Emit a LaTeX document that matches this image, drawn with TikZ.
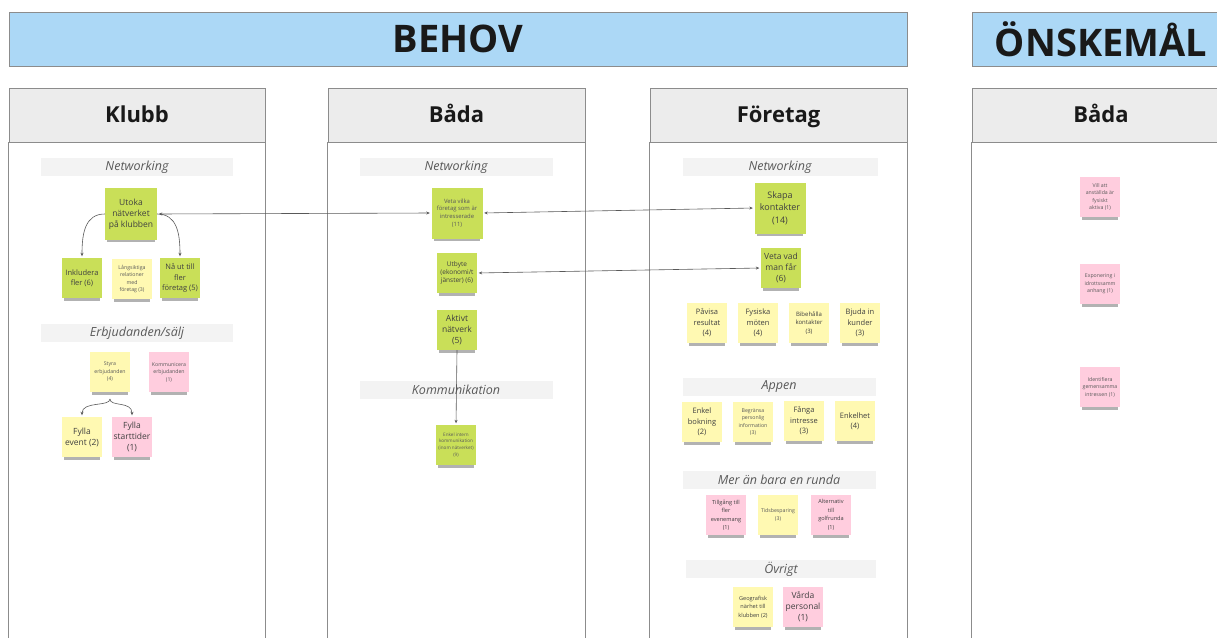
\documentclass[tikz,border=0pt]{standalone}
\usepackage{fontspec}
\setmainfont{Open Sans}
\usetikzlibrary{arrows.meta,shadows}

\definecolor{notegreen}{RGB}{201,223,88}
\definecolor{noteyellow}{RGB}{255,249,178}
\definecolor{notepink}{RGB}{255,205,222}
\definecolor{bannerblue}{RGB}{172,216,246}
\definecolor{headgray}{RGB}{236,236,236}
\definecolor{bandgray}{RGB}{243,243,243}

\begin{document}
\begin{tikzpicture}[x=1pt,y=-1pt,
  banner/.style={draw=black!45, fill=bannerblue, line width=0.8pt, minimum height=54pt,
    font=\fontsize{38}{40}\selectfont\bfseries, text=black!90},
  colhead/.style={draw=black!45, fill=headgray, line width=0.8pt, minimum height=54pt,
    text height=17.5pt, text depth=2.5pt,
    font=\fontsize{22}{24}\selectfont\bfseries, text=black!90},
  colline/.style={draw=black!45, line width=0.8pt},
  band/.style={fill=bandgray, minimum height=18pt, inner sep=0pt,
    font=\fontsize{12.5}{14}\selectfont\itshape, text=black!65},
  sticky/.style={minimum size=40pt, inner sep=1pt, align=center, text=black!75,
    general shadow={fill=black, opacity=0.3, shadow scale=0.92, shadow yshift=-4.5pt}},
  gnote/.style={sticky, fill=notegreen},
  ynote/.style={sticky, fill=noteyellow},
  pnote/.style={sticky, fill=notepink},
  big/.style={font=\fontsize{8.5}{11}\selectfont},
  mid/.style={font=\fontsize{7.5}{10.5}\selectfont},
  small/.style={font=\fontsize{5.6}{8.5}\selectfont},
  tiny/.style={font=\fontsize{5.2}{7.5}\selectfont, text=black!65},
  link/.style={draw=black!65, line width=0.6pt, shorten >=1.5pt,
    -{Stealth[length=3.5pt,width=3pt]}},
  both/.style={link, shorten <=1.5pt,
    {Stealth[length=3.5pt,width=3pt]}-{Stealth[length=3.5pt,width=3pt]}}]

  \fill[white] (0,0) rectangle (1217,637);
  \useasboundingbox (0,0) rectangle (1217,637);

  % banners
  \node[banner, minimum width=898pt] (behov) at (458,39) {BEHOV};
  \node[banner, minimum width=258pt] (onskemal) at (1101,39) {ÖNSKEMÅL};

  % columns
  \node[colhead, minimum width=256pt] (klubb) at (137,115) {Klubb};
  \node[colhead, minimum width=257pt] (bada) at (456.5,115) {Båda};
  \node[colhead, minimum width=257pt] (foretag) at (778.5,115) {Företag};
  \node[colhead, minimum width=258pt] (bada2) at (1101,115) {Båda};
  \foreach \c in {klubb,bada,foretag,bada2} {
    \draw[colline] (\c.south west) -- ++(0,520);
    \draw[colline] (\c.south east) -- ++(0,520);
  }

  % Klubb
  \node[band, minimum width=192pt] (klnet) at (137,167) {Networking};
  \node[band, minimum width=192pt] (klerb) at (137,333) {Erbjudanden/sälj};
  \node[gnote, big, minimum size=52pt] (utoka) at (131,214) {Utoka\\nätverket\\på klubben};
  \node[gnote, mid] (inkl) at (82,278) {Inkludera\\fler (6)};
  \node[ynote, tiny] (langs) at (132,279) {Långsiktiga\\relationer\\med\\företag (3)};
  \node[gnote, mid] (naut) at (180,278) {Nå ut till\\fler\\företag (5)};
  \node[ynote, tiny] (styra) at (110,372) {Styra\\erbjudanden\\(4)};
  \node[pnote, tiny] (komm) at (169,372) {Kommunicera\\erbjudanden\\(1)};
  \node[ynote, big] (fevent) at (82,437) {Fylla\\event (2)};
  \node[pnote, big] (fstart) at (132,437) {Fylla\\starttider\\(1)};
  \coordinate (brace) at (110,399);

  % Båda
  \node[band, minimum width=193pt] (banet) at (456,167) {Networking};
  \node[band, minimum width=193pt] (bakom) at (456,390) {Kommunikation};
  \node[gnote, tiny, font=\fontsize{5.9}{7.7}\selectfont, minimum size=51pt] (vetavilka) at (457,213) {Veta vilka\\företag som är\\intresserade\\(11)};
  \node[gnote, font=\fontsize{6.5}{8}\selectfont] (utbyte) at (457,273) {Utbyte\\(ekonomi/t\\jänster) (6)};
  \node[gnote, big] (aktivt) at (457,330) {Aktivt\\nätverk\\(5)};
  \node[gnote, tiny, font=\fontsize{4.6}{6.8}\selectfont] (enkelint) at (456,445) {Enkel intern\\kommunikation\\(inom nätverket)\\(9)};

  % Företag
  \node[band, minimum width=195pt] (fonet) at (780,167) {Networking};
  \node[band, minimum width=193pt] (foapp) at (779,387) {Appen};
  \node[band, minimum width=193pt] (forunda) at (779,480) {Mer än bara en runda};
  \node[band, minimum width=190pt] (foovr) at (781,569) {Övrigt};
  \node[gnote, font=\fontsize{9}{12.5}\selectfont, minimum size=51pt] (skapa) at (780,208) {Skapa\\kontakter\\(14)};
  \node[gnote, big] (vetavad) at (781,268) {Veta vad\\man får\\(6)};
  \node[ynote, mid] (pavisa) at (707,323) {Påvisa\\resultat\\(4)};
  \node[ynote, mid] (fysiska) at (758,323) {Fysiska\\möten\\(4)};
  \node[ynote, small, font=\fontsize{6}{8.5}\selectfont] (bibeh) at (809,323) {Bibehålla\\kontakter\\(3)};
  \node[ynote, mid] (bjuda) at (860,323) {Bjuda in\\kunder\\(3)};
  \node[ynote, mid] (enkelbok) at (702,422) {Enkel\\bokning\\(2)};
  \node[ynote, tiny] (begransa) at (753,422) {Begränsa\\personlig\\information\\(3)};
  \node[ynote, mid] (fanga) at (804,421) {Fånga\\intresse\\(3)};
  \node[ynote, mid] (enkelhet) at (855,421) {Enkelhet\\(4)};
  \node[pnote, small] (tillgang) at (726,515) {Tillgång till\\fler\\evenemang\\(1)};
  \node[ynote, tiny] (tidsbes) at (778,515) {Tidsbesparing\\(3)};
  \node[pnote, small] (altern) at (831,515) {Alternativ\\till\\golfrunda\\(1)};
  \node[ynote, small] (geograf) at (753,607) {Geografisk\\närhet till\\klubben (2)};
  \node[pnote, big] (varda) at (803,607) {Vårda\\personal\\(1)};

  % Önskemål
  \node[pnote, tiny] (vill) at (1100,197) {Vill att\\anställda är\\fysiskt\\aktiva (1)};
  \node[pnote, tiny] (expon) at (1100,284) {Exponering i\\idrottssamm\\anhang (1)};
  \node[pnote, tiny] (ident) at (1100,387) {Identifiera\\gemensamma\\intressen (1)};

  % connectors
  \draw[both] (utoka.east) -- (vetavilka.west);
  \draw[both] (vetavilka.east) -- (skapa.west);
  \draw[both] (utbyte.east) -- (vetavad.west);
  \draw[link] (aktivt.south) -- (enkelint.north);
  \draw[link] (utoka.west) .. controls +(-20,0) and +(0,-24) .. (inkl.north);
  \draw[link] (utoka.east) .. controls +(20,0) and +(0,-24) .. (naut.north);
  \draw[link] (brace) .. controls +(0,8) and +(0,-16) .. (fevent.north);
  \draw[link] (brace) .. controls +(0,8) and +(0,-16) .. (fstart.north);
\end{tikzpicture}
\end{document}
